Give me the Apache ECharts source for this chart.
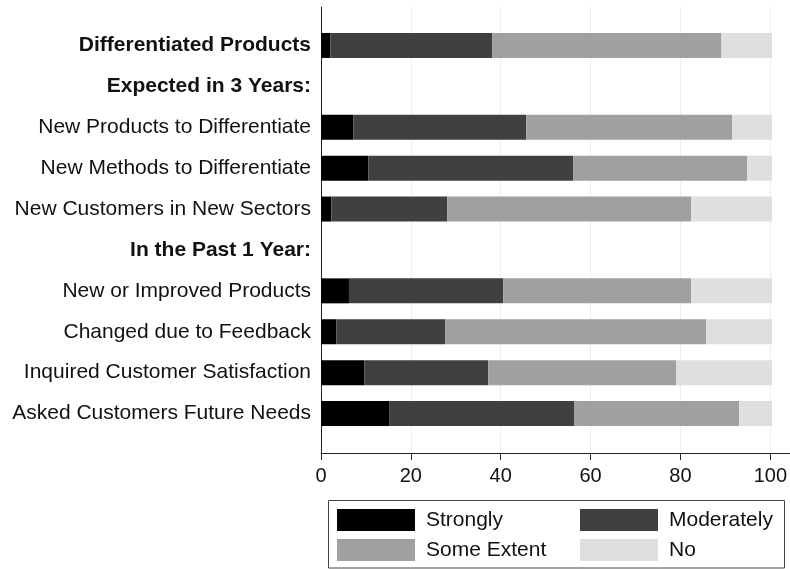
<!DOCTYPE html>
<html>
<head>
<meta charset="utf-8">
<script src="https://cdn.jsdelivr.net/npm/echarts@6/dist/echarts.min.js"></script>
<style>
  html, body { margin: 0; padding: 0; background: #fff; }
  #chart { width: 790px; height: 569px; }
</style>
</head>
<body>
<div id="chart"></div>
<script>
// Row labels, top to bottom; header rows carry no values
const categories = [
  'Differentiated Products',
  'Expected in 3 Years:',
  'New Products to Differentiate',
  'New Methods to Differentiate',
  'New Customers in New Sectors',
  'In the Past 1 Year:',
  'New or Improved Products',
  'Changed due to Feedback',
  'Inquired Customer Satisfaction',
  'Asked Customers Future Needs'
];
const boldRows = ['Differentiated Products', 'Expected in 3 Years:', 'In the Past 1 Year:'];

// Percent of respondents per answer
const strongly    = [2.1, null, 7.2, 10.5, 2.3, null, 6.2, 3.4, 9.6, 15.1];
const moderately  = [35.9, null, 38.3, 45.4, 25.7, null, 34.2, 24.2, 27.5, 41.1];
const someExtent  = [50.8, null, 45.7, 38.6, 54.1, null, 41.7, 57.8, 41.7, 36.5];
const no          = [11.2, null, 8.8, 5.5, 17.9, null, 17.9, 14.6, 21.2, 7.3];

const seriesNames = ['Strongly', 'Moderately', 'Some Extent', 'No'];
const seriesData = [strongly, moderately, someExtent, no];
const seriesColors = ['#000000', '#404040', '#a0a0a0', '#dfdfdf'];

const xTicks = { min: 0, max: 100, interval: 20 };

const FONT = 'Liberation Sans, Arial, Helvetica, sans-serif';
const chart = echarts.init(document.getElementById('chart'), null, { renderer: 'canvas' });

const legendPos = [
  { left: 337, top: 509 },
  { left: 580, top: 509 },
  { left: 337, top: 539 },
  { left: 580, top: 539 }
];

const option = {
  backgroundColor: '#ffffff',
  animation: false,
  textStyle: { fontFamily: FONT },
  grid: [
    // frame: gridlines, ticks, labels, vertical axis line
    { left: 321, right: 18, top: 7, bottom: 116 },
    // horizontal axis line running to the right edge
    { left: 321, right: 0, top: 7, bottom: 116 },
    // bars
    { left: 321, right: 18, top: 25, bottom: 135 }
  ],
  xAxis: [
    {
      gridIndex: 0, type: 'value', min: xTicks.min, max: xTicks.max, interval: xTicks.interval,
      axisLine: { show: false },
      axisTick: { show: true, length: 7, lineStyle: { color: '#222', width: 1 } },
      axisLabel: { show: true, color: '#111', fontSize: 20, margin: 13, fontFamily: FONT },
      splitLine: { show: true, lineStyle: { color: '#e8f0f2', width: 1 } }
    },
    {
      gridIndex: 1, type: 'value', min: 0, max: 1,
      axisLine: { show: true, lineStyle: { color: '#222', width: 1 } },
      axisTick: { show: false }, axisLabel: { show: false }, splitLine: { show: false }
    },
    {
      gridIndex: 2, type: 'value', min: xTicks.min, max: xTicks.max,
      show: false
    }
  ],
  yAxis: [
    {
      gridIndex: 0, type: 'value', min: 0, max: 1,
      axisLine: { show: true, lineStyle: { color: '#222', width: 1 } },
      axisTick: { show: false }, axisLabel: { show: false }, splitLine: { show: false }
    },
    {
      gridIndex: 1, type: 'value', min: 0, max: 1, show: false
    },
    {
      gridIndex: 2, type: 'category', data: categories, inverse: true,
      axisLine: { show: false }, axisTick: { show: false }, splitLine: { show: false },
      axisLabel: {
        margin: 10,
        color: '#111',
        fontSize: 21,
        fontFamily: FONT,
        formatter: function (v) {
          return boldRows.indexOf(v) >= 0 ? '{b|' + v + '}' : v;
        },
        rich: { b: { fontWeight: 'bold', fontSize: 21, fontFamily: FONT, color: '#111' } }
      }
    }
  ],
  legend: seriesNames.map(function (name, i) {
    return {
      data: [name],
      left: legendPos[i].left,
      top: legendPos[i].top,
      padding: 0,
      itemWidth: 78,
      itemHeight: 22,
      icon: 'rect',
      selectedMode: false,
      textStyle: { fontSize: 21, color: '#111', fontFamily: FONT, padding: [0, 0, 0, 6] }
    };
  }),
  graphic: [
    {
      type: 'rect',
      shape: { x: 328.5, y: 500.5, width: 456, height: 67.5 },
      style: { fill: 'none', stroke: '#444', lineWidth: 1 },
      silent: true
    }
  ],
  series: seriesNames.map(function (name, i) {
    return {
      name: name,
      type: 'bar',
      stack: 'total',
      xAxisIndex: 2,
      yAxisIndex: 2,
      barWidth: 25,
      data: seriesData[i],
      itemStyle: { color: seriesColors[i] }
    };
  })
};

chart.setOption(option);
</script>
</body>
</html>
